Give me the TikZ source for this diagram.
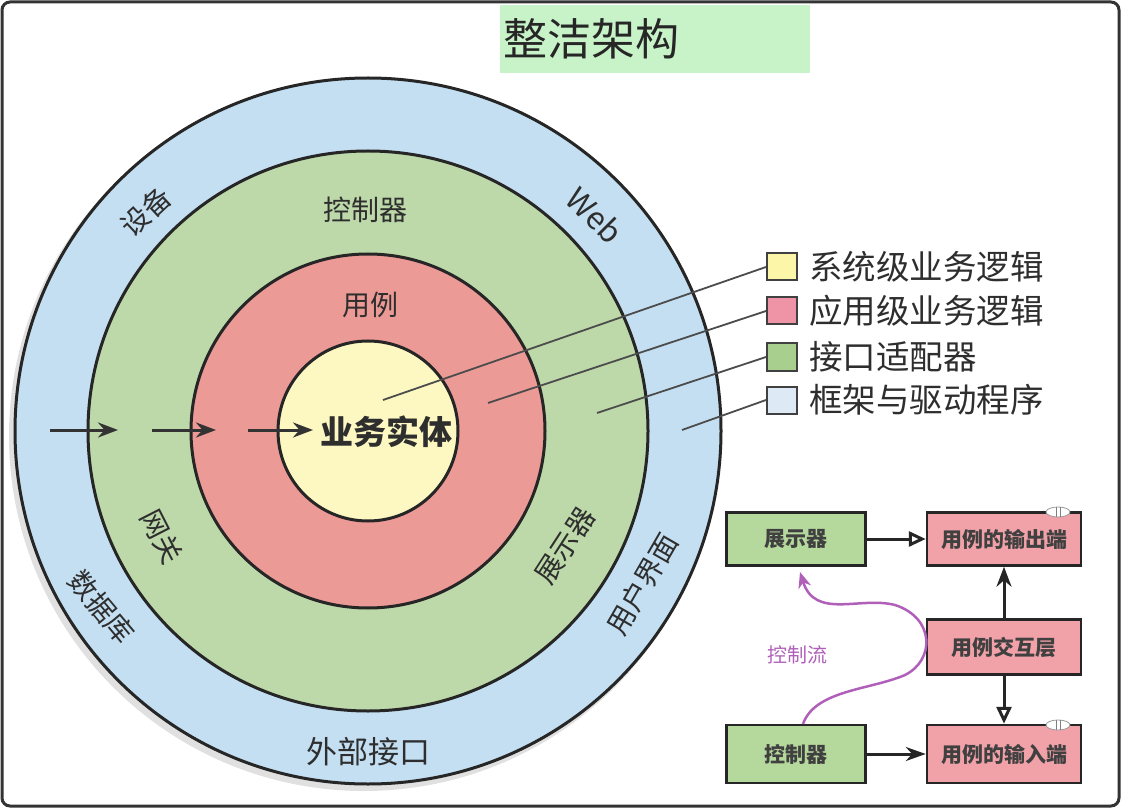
\documentclass[tikz,border=0pt]{standalone}
\usepackage{fontspec}
\setmainfont{Noto Sans CJK SC}
\usetikzlibrary{arrows.meta,positioning,shapes.geometric}
\definecolor{cblue}{HTML}{C4DFF2}
\definecolor{cgreen}{HTML}{BDD8A9}
\definecolor{cred}{HTML}{EC9A96}
\definecolor{cyellow}{HTML}{FDF8C2}
\definecolor{lyellow}{HTML}{FBF6A8}
\definecolor{lred}{HTML}{EE94A6}
\definecolor{lgreen}{HTML}{A8CF8E}
\definecolor{lblue}{HTML}{DDE9F4}
\definecolor{bgreen}{HTML}{B5D89C}
\definecolor{bred}{HTML}{F1A1A8}
\definecolor{titlebg}{HTML}{C8F2C8}
\definecolor{txt}{HTML}{2E2E2E}
\definecolor{cpurple}{HTML}{B060B8}
\tikzset{
  ring/.style={draw=black!85, line width=3pt},
  ringlabel/.style={text=txt, font=\fontsize{28}{30}\selectfont, inner sep=0pt},
  flowarrow/.style={draw=black!80, line width=3pt, -{Stealth[length=20pt,width=15pt]}},
  legsq/.style={draw=black!75, line width=2pt, minimum width=30pt, minimum height=27pt, inner sep=0pt},
  legtext/.style={text=txt, font=\fontsize{33.5}{35}\selectfont, anchor=west, inner sep=0pt},
  leader/.style={draw=black!70, line width=1.8pt},
  ucbox/.style={draw=black!85, line width=2.5pt, minimum width=139pt, minimum height=53pt, inner sep=0pt, font=\fontsize{21}{23}\selectfont\bfseries, text=black!75},
  iface/.style={draw=black!40, fill=white, line width=0.8pt, ellipse, minimum width=24pt, minimum height=10pt, inner sep=0pt},
  conn/.style={draw=black!85, line width=3pt},
}
\begin{document}
\begin{tikzpicture}[x=1pt,y=-1pt]
\useasboundingbox (0,0) rectangle (1122,810);
% frame
\draw[draw=black!80, line width=3pt, rounded corners=8pt] (2,2) rectangle (1119,806);
% title
\node[fill=titlebg, minimum width=310pt, minimum height=68pt, inner sep=0pt] (titlebox) at (655,39) {};
\node[anchor=west, text=black!85, font=\fontsize{44}{46}\selectfont, inner sep=0pt] (title) at (503,39) {整洁架构};
% circles
\coordinate (c) at (368,431);
\fill[black!12] (364,436) circle[radius=355pt];
\draw[ring, fill=cblue] (c) circle[radius=353pt];
\draw[ring, fill=cgreen] (c) circle[radius=280pt];
\draw[ring, fill=cred] (c) circle[radius=177pt];
\draw[ring, fill=cyellow] (c) circle[radius=90pt];
% labels in rings
\node[ringlabel] (lctrl) at (365,210) {控制器};
\node[ringlabel] (luse) at (370,305) {用例};
\node[ringlabel, font=\fontsize{33}{35}\selectfont\bfseries] (lent) at (386,432) {业务实体};
\node[ringlabel, font=\fontsize{31}{33}\selectfont] (lext) at (368,752) {外部接口};
\node[ringlabel, rotate=43] (ldev) at (146,212) {设备};
\node[ringlabel, rotate=-45, font=\fontsize{31}{33}\selectfont] (lweb) at (595,215) {Web};
\node[ringlabel, rotate=-63] (lgate) at (162,537) {网关};
\node[ringlabel, rotate=-50] (ldb) at (102,607) {数据库};
\node[ringlabel, rotate=57] (lpres) at (565,546) {展示器};
\node[ringlabel, rotate=60] (lui) at (642,584) {用户界面};
% flow arrows
\coordinate (a1s) at (50,430); \coordinate (a1e) at (118,430);
\coordinate (a2s) at (152,430); \coordinate (a2e) at (216,430);
\coordinate (a3s) at (248,430); \coordinate (a3e) at (313,430);
\draw[flowarrow] (a1s) -- (a1e);
\draw[flowarrow] (a2s) -- (a2e);
\draw[flowarrow] (a3s) -- (a3e);
% legend
\node[legsq, fill=lyellow] (q1) at (782,267) {};
\node[legsq, fill=lred] (q2) at (782,311) {};
\node[legsq, fill=lgreen] (q3) at (782,357) {};
\node[legsq, fill=lblue] (q4) at (782,400) {};
\node[legtext] (t1) at (809,267) {系统级业务逻辑};
\node[legtext] (t2) at (809,311) {应用级业务逻辑};
\node[legtext] (t3) at (809,357) {接口适配器};
\node[legtext] (t4) at (809,400) {框架与驱动程序};
\coordinate (e1) at (383,400);
\coordinate (e2) at (488,403);
\coordinate (e3) at (597,413);
\coordinate (e4) at (682,430);
\draw[leader] (q1.west) -- (e1);
\draw[leader] (q2.west) -- (e2);
\draw[leader] (q3.west) -- (e3);
\draw[leader] (q4.west) -- (e4);
% bottom-right diagram
\node[ucbox, fill=bgreen] (pres) at (796,539) {展示器};
\node[ucbox, fill=bred, minimum width=154pt] (out) at (1004,539) {用例的输出端};
\node[ucbox, fill=bred, minimum width=154pt, minimum height=55pt] (inter) at (1004,647) {用例交互层};
\node[ucbox, fill=bgreen, minimum height=58pt] (ctrl) at (796,754) {控制器};
\node[ucbox, fill=bred, minimum width=154pt, minimum height=58pt] (in) at (1004,754) {用例的输入端};
\node[iface] (if1) at (1058,512) {};
\node[iface] (if2) at (1058,725) {};
\draw[black!50, line width=1pt] ([xshift=-2pt]if1.north) -- ([xshift=-2pt]if1.south) ([xshift=2pt]if1.north) -- ([xshift=2pt]if1.south);
\draw[black!50, line width=1pt] ([xshift=-2pt]if2.north) -- ([xshift=-2pt]if2.south) ([xshift=2pt]if2.north) -- ([xshift=2pt]if2.south);
\draw[conn, -{Triangle[open, length=17pt, width=15pt]}] (pres) -- (out);
\draw[conn, -{Stealth[length=20pt, width=14pt]}] (ctrl) -- (in);
\draw[conn, -{Stealth[length=20pt, width=15pt]}] (inter) -- (out);
\draw[conn, -{Triangle[open, length=17pt, width=15pt]}] (inter) -- (in);
% control flow
\coordinate (cf1) at (803,724);
\coordinate (cf2) at (800,572);
\draw[cpurple, line width=2.5pt, -{Stealth[length=16pt,width=13pt]}]
  (cf1) .. controls (815,690) and (870,690) .. (905,675)
  .. controls (935,660) and (935,618) .. (895,605)
  .. controls (860,596) and (815,620) .. (cf2);
\node[text=cpurple, font=\fontsize{20}{22}\selectfont, inner sep=0pt] (cflabel) at (797,655) {控制流};
\end{tikzpicture}
\end{document}
